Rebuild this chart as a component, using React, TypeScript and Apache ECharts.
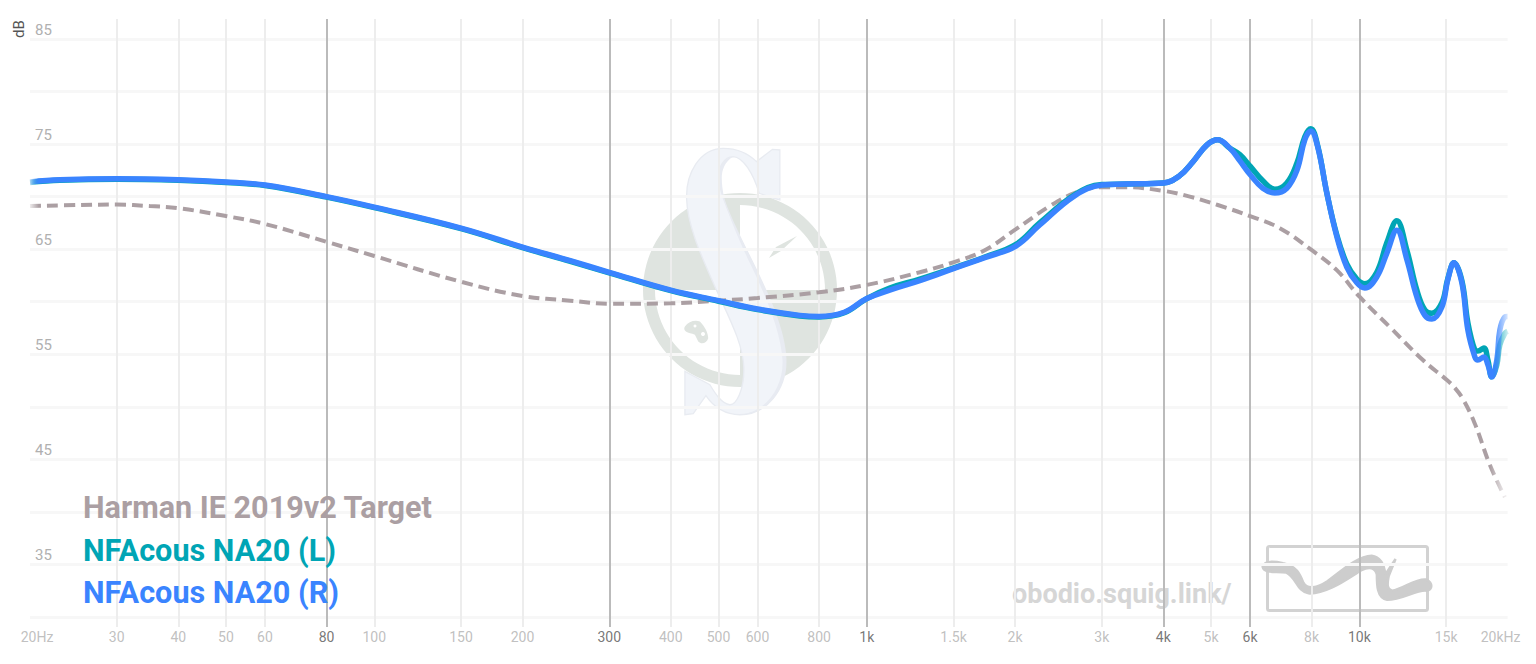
import React, { useEffect, useRef } from "react";
import * as echarts from "echarts";

const freqs = [20, 23, 30, 40, 50, 60, 80, 100, 150, 200, 250, 300, 400, 500, 600, 731, 800, 900, 1000, 1113, 1281, 1509, 1736, 2008, 2244, 2646, 3000, 3340, 4000, 4320, 4592, 4900, 5160, 5460, 5720, 6000, 6370, 6735, 7125, 7470, 7750, 7970, 8235, 8590, 9000, 9430, 9885, 10260, 10850, 11370, 11915, 12490, 13085, 13585, 14040, 14710, 15125, 15560, 16150, 16610, 17160, 17400, 17900, 18240, 18580, 19020, 19290, 19750, 20000];
const rightDb = [71.4, 71.6, 71.7, 71.6, 71.4, 71.1, 70.0, 69.0, 67.0, 65.2, 63.9, 62.8, 61.1, 60.1, 59.3, 58.7, 58.6, 59.0, 60.3, 61.1, 62.0, 63.2, 64.2, 65.3, 67.3, 70.1, 71.1, 71.2, 71.3, 72.0, 73.3, 74.9, 75.4, 74.6, 73.4, 72.1, 70.8, 70.35, 70.8, 72.5, 75.4, 76.25, 74.7, 70.35, 66.2, 63.3, 61.8, 61.3, 62.35, 64.6, 66.8, 64.0, 60.45, 58.7, 58.35, 59.5, 62.1, 63.7, 61.8, 57.3, 54.75, 54.45, 54.75, 54.0, 52.85, 54.45, 57.3, 58.55, 58.6];
const leftDb = [71.35, 71.55, 71.65, 71.55, 71.35, 71.05, 69.95, 68.95, 66.95, 65.15, 63.85, 62.75, 61.05, 60.05, 59.25, 58.65, 58.55, 58.95, 60.3, 61.3, 62.15, 63.25, 64.25, 65.45, 67.5, 70.2, 71.15, 71.2, 71.3, 72.0, 73.3, 74.9, 75.4, 74.6, 74.0, 72.9, 71.5, 70.7, 71.3, 73.2, 75.7, 76.45, 74.8, 70.35, 66.35, 63.6, 62.15, 61.7, 62.8, 65.6, 67.7, 64.9, 61.1, 59.2, 58.9, 59.9, 62.2, 63.7, 62.0, 58.0, 55.4, 55.3, 55.6, 54.45, 52.85, 54.0, 55.9, 57.0, 57.2];
const targetFreqs = [20, 25.3, 30, 35, 40, 50, 60, 80, 100, 150, 200, 250, 300, 400, 500, 600, 800, 1000, 1281, 1509, 1736, 2008, 2353, 2646, 3000, 3340, 4000, 4527, 5160, 6080, 6895, 8010, 9000, 10020, 11530, 13460, 15060, 15630, 16230, 17160, 18400, 19750];
const targetDb = [69.1, 69.2, 69.25, 69.1, 68.9, 68.15, 67.4, 65.7, 64.35, 61.9, 60.55, 60.1, 59.8, 59.85, 60.1, 60.35, 60.9, 61.6, 62.8, 63.8, 64.9, 66.9, 69.1, 70.35, 70.9, 70.9, 70.55, 70.0, 69.2, 68.05, 67.0, 64.9, 63.0, 60.45, 57.6, 54.45, 52.55, 51.8, 50.75, 48.4, 44.5, 41.4];

const xLabelFreqs = [20, 30, 40, 50, 60, 80, 100, 150, 200, 300, 400, 500, 600, 800, 1000, 1500, 2000, 3000, 4000, 5000, 6000, 8000, 10000, 15000, 20000];
const xLabelTexts = ["20Hz", "30", "40", "50", "60", "80", "100", "150", "200", "300", "400", "500", "600", "800", "1k", "1.5k", "2k", "3k", "4k", "5k", "6k", "8k", "10k", "15k", "20kHz"];
const strongFreqs = [80, 300, 1000, 4000, 6000, 10000];
const lightFreqs = [30, 40, 50, 60, 100, 150, 200, 400, 500, 600, 800, 1500, 2000, 3000, 5000, 8000, 15000];
const hLines = [30, 35, 40, 45, 50, 55, 60, 65, 70, 75, 80, 85];
const yLabels = [35, 45, 55, 65, 75, 85];
const legendNames = ["Harman IE 2019v2 Target", "NFAcous NA20 (L)", "NFAcous NA20 (R)"];

const sPath = "M470 95C440 65 400 55 370 55C300 55 258 130 260 205C262 290 310 390 345 470C385 560 430 640 432 715C433 780 410 825 390 825C365 822 345 790 330 765L255 725L255 855L280 852L318 798C340 830 375 855 420 855C500 855 560 780 558 690C556 600 500 480 450 380C410 300 370 220 358 160C350 110 375 80 400 80C430 82 460 130 478 190L522 205L540 210L540 60L518 58Z";
const sEdgePath = "M400 80C375 80 350 110 358 160C370 220 410 300 450 380C500 480 556 600 558 690C560 780 500 855 420 855C500 848 552 770 548 690C543 600 490 480 443 385C405 300 362 210 366 135C369 108 382 90 400 80Z";
const squigPath = "M770 108C775 90 800 90 830 97C870 105 880 130 890 155C900 175 930 170 960 150C1000 120 1050 75 1090 75C1120 80 1128 110 1130 130L1160 85L1140 135C1135 160 1135 175 1150 178C1180 175 1220 140 1250 145C1270 155 1270 175 1250 178C1220 175 1180 205 1135 205C1105 200 1105 160 1105 130C1100 112 1085 105 1060 118C1020 142 960 188 905 186C870 180 870 140 840 125C810 120 775 130 770 108Z";
const padPath = "M255 590C265 575 285 570 300 575C315 590 325 610 325 625C320 640 305 645 295 635L285 615C275 610 265 610 258 605C252 600 252 595 255 590Z";

echarts.graphic.registerShape("sLogo", echarts.graphic.extendPath(sPath, {}) as any);
echarts.graphic.registerShape("sEdge", echarts.graphic.extendPath(sEdgePath, {}) as any);
echarts.graphic.registerShape("squig", echarts.graphic.extendPath(squigPath, {}) as any);
echarts.graphic.registerShape("pad", echarts.graphic.extendPath(padPath, {}) as any);

const fade = (c: string) =>
  new echarts.graphic.LinearGradient(0, 0, 1, 0, [
    { offset: 0, color: c + "33" },
    { offset: 0.006, color: c },
    { offset: 0.99, color: c },
    { offset: 1, color: c + "33" },
  ]);

const TARGET = "#ab9fa3";
const LEFT = "#00a5b5";
const RIGHT = "#3a84ff";
const GREEN = "#dfe4e0";
const legendColors = [TARGET, LEFT, RIGHT];
const legendY = [507, 550, 592];

export default function App() {
  const ref = useRef<HTMLDivElement>(null);
  useEffect(() => {
    document.body.style.margin = "0";
    const chart = echarts.init(ref.current!, null, { renderer: "svg" });
    chart.setOption({
      animation: false,
      backgroundColor: "#ffffff",
      textStyle: { fontFamily: "Roboto" },
      grid: { left: 30, right: 28.4, top: 19, bottom: 37 },
      xAxis: {
        type: "log",
        logBase: 10,
        min: 20,
        max: 20000,
        axisLine: { show: false },
        axisTick: { show: false },
        splitLine: { show: false },
        minorTick: { show: false },
        minorSplitLine: { show: false },
        axisLabel: { show: false },
      },
      yAxis: {
        type: "value",
        min: 29.05,
        max: 86.9,
        axisLine: { show: false },
        axisTick: { show: false },
        splitLine: { show: false },
        axisLabel: {
          show: true,
          inside: true,
          customValues: yLabels,
          margin: 5,
          color: "#b0b0b0",
          fontSize: 15,
          fontFamily: "Roboto",
          verticalAlign: "bottom",
          lineHeight: 18,
        },
      },
      graphic: {
        elements: [
          {
            type: "group",
            silent: true,
            z: -10,
            children: [
              { type: "ring", shape: { cx: 740, cy: 290, r: 97, r0: 85 }, style: { fill: GREEN }, z: -10 },
              { type: "sector", shape: { cx: 740, cy: 290, r: 90, r0: 0, startAngle: Math.PI * 1.0, endAngle: Math.PI * 1.5 }, style: { fill: GREEN }, z: -10 },
              { type: "sector", shape: { cx: 740, cy: 290, r: 90, r0: 0, startAngle: 0, endAngle: Math.PI * 0.5 }, style: { fill: GREEN }, z: -10 },
              { type: "polygon", shape: { points: [[797, 236], [776, 247], [769, 258], [781, 251]] }, style: { fill: GREEN }, z: -10 },
              { type: "pad", x: 600, y: 130, scaleX: 1 / 3, scaleY: 1 / 3, style: { fill: GREEN }, z: -10 },
              { type: "circle", shape: { cx: 695, cy: 326, r: 1.5 }, style: { fill: "#ffffff" }, z: -10 },
              { type: "circle", shape: { cx: 703, cy: 334, r: 2 }, style: { fill: "#ffffff" }, z: -10 },
              { type: "sLogo", x: 600, y: 130, scaleX: 1 / 3, scaleY: 1 / 3, style: { fill: "#f1f4f9", stroke: "#e8ebf1", lineWidth: 4 }, z: -9 },
              { type: "sEdge", x: 600, y: 130, scaleX: 1 / 3, scaleY: 1 / 3, style: { fill: "#e8ebf2" }, z: -9 },
              { type: "rect", shape: { x: 1267.5, y: 546.5, width: 160, height: 64, r: 2 }, style: { fill: "none", stroke: "#d2d2d2", lineWidth: 3 }, z: -9 },
              { type: "squig", x: 1000, y: 530, scaleX: 1 / 2.93, scaleY: 1 / 2.93, style: { fill: "#cdcdcd", stroke: "#cdcdcd", lineWidth: 7 }, z: -9 },
            ],
          },
          { type: "text", x: 1012, y: 594, silent: true, z: -9, style: { text: "obodio.squig.link/", fill: "#d6d6d6", font: "bold 27px Roboto", verticalAlign: "middle" } },
          { type: "text", x: 19, y: 29, rotation: Math.PI / 2, silent: true, style: { text: "dB", fill: "#555555", font: "15px Roboto", align: "center", verticalAlign: "middle" } },
          ...legendNames.map((name, i) => ({
            type: "text",
            x: 83,
            y: legendY[i],
            silent: true,
            z: 10,
            style: { text: name, fill: legendColors[i], font: "bold 30.6px Roboto", verticalAlign: "middle" },
          })),
        ],
      },
      series: [
        {
          name: "gridlines",
          type: "line",
          data: [],
          silent: true,
          z: 1,
          markLine: {
            z: 1,
            silent: true,
            symbol: "none",
            animation: false,
            label: { show: false },
            data: [
              ...hLines.map((v) => ({ yAxis: v, lineStyle: { color: "#f7f7f7", width: 3, type: "solid" } })),
              ...lightFreqs.map((f) => ({ xAxis: f, lineStyle: { color: "#ededed", width: 2, type: "solid" } })),
              ...strongFreqs.map((f) => ({ xAxis: f, lineStyle: { color: "#bbbbbb", width: 2, type: "solid" } })),
            ],
          },
        },
        {
          name: "tick labels",
          type: "scatter",
          silent: true,
          symbolSize: 0,
          z: 2,
          data: xLabelFreqs.map((f, i) => ({
            value: [f, 29.05],
            label: {
              show: true,
              position: "bottom",
              distance: 3,
              formatter: xLabelTexts[i],
              fontSize: 14,
              fontFamily: "Roboto",
              color: strongFreqs.includes(f) ? "#555555" : "#b0b0b0",
              offset: [f === 20 ? 7 : f === 20000 ? -7 : 0, 0],
            },
          })),
        },
        {
          name: "Harman IE 2019v2 Target",
          type: "line",
          data: targetFreqs.map((f, i) => [f, targetDb[i]]),
          showSymbol: false,
          smooth: 0.4,
          itemStyle: { color: TARGET },
          lineStyle: { color: fade(TARGET), width: 4, type: [11, 6] },
          z: 3,
        },
        {
          name: "NFAcous NA20 (L)",
          type: "line",
          data: freqs.map((f, i) => [f, leftDb[i]]),
          showSymbol: false,
          smooth: 0.4,
          itemStyle: { color: LEFT },
          lineStyle: { color: fade(LEFT), width: 5.5 },
          z: 4,
        },
        {
          name: "NFAcous NA20 (R)",
          type: "line",
          data: freqs.map((f, i) => [f, rightDb[i]]),
          showSymbol: false,
          smooth: 0.4,
          itemStyle: { color: RIGHT },
          lineStyle: { color: fade(RIGHT), width: 5.5 },
          z: 5,
        },
      ],
    });
    return () => chart.dispose();
  }, []);
  return <div ref={ref} style={{ width: 1536, height: 664, overflow: "hidden" }} />;
}
